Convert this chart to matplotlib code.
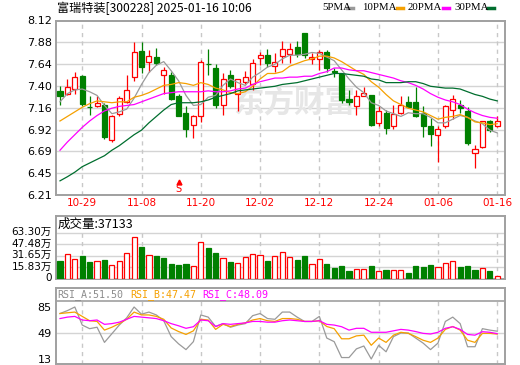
import numpy as np
import matplotlib.pyplot as plt
from matplotlib.transforms import ScaledTranslation, blended_transform_factory

plt.rcParams['font.family'] = ['DejaVu Sans', 'Noto Sans CJK SC']

W, H = 520, 365

# daily candles (index 0 = 10-24 ... 59 = 01-16)
opens = [7.35, 7.315, 7.37, 7.515, 7.175, 7.18, 7.195, 6.81, 7.095, 7.23,
         7.50, 7.79, 7.67, 7.725, 7.52, 7.52, 7.29, 7.11, 6.98, 7.07,
         7.645, 7.60, 7.20, 7.52, 7.32, 7.45, 7.425, 7.715, 7.74, 7.625,
         7.73, 7.75, 7.835, 7.98, 7.695, 7.70, 7.77, 7.565, 7.535, 7.26,
         7.18, 7.295, 7.305, 6.995, 7.11, 6.96, 7.105, 7.23, 7.23, 7.105,
         6.96, 6.87, 6.96, 7.14, 7.195, 7.13, 6.665, 6.73, 7.015, 6.96]
highs = [7.40, 7.48, 7.56, 7.52, 7.29, 7.29, 7.215, 7.09, 7.29, 7.52,
         7.88, 7.88, 7.80, 7.82, 7.615, 7.56, 7.32, 7.18, 7.085, 7.69,
         7.805, 7.645, 7.54, 7.58, 7.48, 7.57, 7.695, 7.77, 7.81, 7.76,
         7.90, 7.87, 7.90, 7.98, 7.76, 7.80, 7.80, 7.60, 7.54, 7.36,
         7.36, 7.39, 7.305, 7.18, 7.14, 7.195, 7.29, 7.29, 7.39, 7.18,
         7.05, 6.96, 7.195, 7.30, 7.25, 7.17, 6.755, 7.02, 7.03, 7.07]
lows = [7.20, 7.31, 7.32, 7.18, 7.09, 7.17, 6.82, 6.795, 7.08, 7.22,
        7.46, 7.55, 7.56, 7.63, 7.32, 7.25, 7.07, 6.84, 6.83, 7.01,
        7.52, 7.165, 7.085, 7.38, 7.13, 7.425, 7.36, 7.635, 7.615, 7.56,
        7.65, 7.65, 7.72, 7.71, 7.64, 7.58, 7.56, 7.505, 7.215, 7.20,
        7.085, 7.29, 6.96, 6.97, 6.875, 6.93, 7.10, 7.165, 7.06, 6.85,
        6.75, 6.575, 6.94, 7.04, 7.11, 6.76, 6.51, 6.72, 6.905, 6.95]
closes = [7.29, 7.395, 7.505, 7.21, 7.17, 7.215, 6.84, 7.08, 7.275, 7.36,
          7.77, 7.615, 7.73, 7.65, 7.58, 7.26, 7.075, 6.935, 7.075, 7.665,
          7.64, 7.195, 7.48, 7.40, 7.475, 7.50, 7.65, 7.74, 7.66, 7.665,
          7.805, 7.805, 7.75, 7.74, 7.725, 7.77, 7.60, 7.555, 7.255, 7.23,
          7.295, 7.33, 6.975, 7.13, 6.94, 7.10, 7.195, 7.175, 7.07, 6.96,
          6.875, 6.93, 7.18, 7.26, 7.16, 6.78, 6.71, 7.02, 6.92, 7.015]

ma5 = [7.23, 7.32, 7.36, 7.37, 7.34, 7.30, 7.19, 7.10, 7.12, 7.15,
       7.27, 7.42, 7.55, 7.63, 7.67, 7.57, 7.46, 7.30, 7.19, 7.20,
       7.28, 7.30, 7.41, 7.48, 7.44, 7.41, 7.50, 7.55, 7.61, 7.64,
       7.70, 7.74, 7.74, 7.75, 7.77, 7.76, 7.72, 7.68, 7.58, 7.48,
       7.39, 7.33, 7.22, 7.19, 7.13, 7.10, 7.07, 7.11, 7.10, 7.10,
       7.06, 7.00, 7.00, 7.04, 7.08, 7.06, 7.02, 6.99, 6.92, 6.89]
ma10 = [7.02, 7.07, 7.12, 7.17, 7.21, 7.24, 7.23, 7.22, 7.23, 7.23,
        7.28, 7.30, 7.33, 7.37, 7.41, 7.42, 7.44, 7.43, 7.41, 7.44,
        7.42, 7.38, 7.36, 7.33, 7.32, 7.34, 7.40, 7.48, 7.54, 7.54,
        7.56, 7.62, 7.65, 7.68, 7.70, 7.73, 7.73, 7.71, 7.67, 7.62,
        7.57, 7.53, 7.45, 7.39, 7.31, 7.24, 7.20, 7.16, 7.14, 7.12,
        7.08, 7.04, 7.06, 7.07, 7.09, 7.06, 7.01, 7.00, 6.98, 6.99]
ma20 = [6.70, 6.79, 6.87, 6.95, 7.02, 7.08, 7.13, 7.16, 7.18, 7.19,
        7.20, 7.23, 7.26, 7.29, 7.32, 7.33, 7.34, 7.34, 7.34, 7.34,
        7.35, 7.34, 7.34, 7.35, 7.37, 7.38, 7.42, 7.45, 7.47, 7.49,
        7.49, 7.50, 7.50, 7.51, 7.51, 7.54, 7.56, 7.60, 7.60, 7.58,
        7.57, 7.57, 7.55, 7.53, 7.51, 7.49, 7.46, 7.44, 7.41, 7.37,
        7.32, 7.28, 7.25, 7.23, 7.20, 7.15, 7.11, 7.08, 7.06, 7.05]
ma30 = [6.365, 6.41, 6.46, 6.52, 6.56, 6.60, 6.64, 6.70, 6.75, 6.81,
        6.87, 6.92, 7.00, 7.07, 7.14, 7.20, 7.22, 7.22, 7.22, 7.23,
        7.25, 7.28, 7.30, 7.32, 7.35, 7.36, 7.37, 7.38, 7.39, 7.40,
        7.42, 7.43, 7.44, 7.46, 7.48, 7.50, 7.52, 7.54, 7.54, 7.53,
        7.52, 7.51, 7.48, 7.47, 7.44, 7.44, 7.44, 7.45, 7.45, 7.43,
        7.40, 7.39, 7.38, 7.38, 7.37, 7.34, 7.31, 7.29, 7.26, 7.24]

# volume in 万
volume = [25.2, 34.4, 27.5, 31.6, 23.4, 24.8, 26.1, 18.8, 24.8, 35.8,
          57.8, 44.0, 33.0, 31.6, 29.3, 21.1, 19.3, 20.6, 17.9, 50.9,
          42.6, 35.8, 28.9, 23.4, 22.0, 30.3, 34.0, 32.6, 24.8, 31.6,
          36.7, 30.3, 26.1, 31.6, 20.2, 27.5, 20.6, 15.6, 17.9, 11.5,
          13.8, 13.8, 17.9, 11.0, 12.4, 12.4, 12.4, 8.7, 17.9, 16.5,
          19.3, 16.5, 21.6, 24.3, 16.5, 17.9, 12.4, 14.7, 11.0, 3.71]
vol_up = [0, 1, 1, 0, 0, 1, 0, 1, 1, 1, 1, 0, 1, 0, 0, 0, 0, 0, 1, 1,
          0, 0, 1, 0, 1, 1, 1, 1, 0, 1, 1, 1, 0, 0, 1, 1, 0, 0, 0, 0,
          1, 1, 0, 1, 0, 1, 1, 0, 0, 0, 0, 1, 1, 1, 0, 0, 0, 1, 0, 1]

rsi_a = [76, 80, 85, 60, 55, 57, 36, 48, 60, 70, 85, 75, 78, 74, 66, 44, 34, 26, 37, 74,
         71, 58, 62, 57, 60, 62, 73, 76, 69, 68, 78, 78, 71, 65, 65, 72, 42, 37, 15, 15,
         27, 31, 13, 32, 23, 44, 49, 49, 42, 35, 26, 35, 65, 71, 62, 30, 30, 55, 53, 51.5]
rsi_b = [76, 77, 78, 72, 66, 65, 53, 57, 62, 68, 78, 74, 74, 72, 68, 56, 51, 47, 52, 68,
         67, 54, 61, 58, 61, 63, 67, 69, 66, 65, 69, 69, 68, 65, 65, 66, 58, 55, 41, 41,
         45, 46, 32, 42, 36, 46, 50, 48.5, 44, 39, 36, 42, 54, 58, 53, 39, 36, 48.5, 48.5, 47.47]
rsi_c = [69, 71, 72, 67, 66, 67, 61, 62, 64, 68, 72, 71, 70, 69, 66, 62, 59, 55.5, 57.7, 67,
         66, 58, 62, 61, 62, 63, 65, 65, 64, 64, 66, 67, 66, 65, 65, 66, 61, 60, 57.7, 53,
         55.5, 55.5, 50, 50, 50, 52, 54, 53, 51, 48.5, 47.6, 50, 55.5, 57.7, 54, 47, 46, 50.8, 50, 48.09]

date_idx = [3, 11, 19, 27, 35, 43, 51, 59]
date_lbl = ['10-29', '11-08', '11-20', '12-02', '12-12', '12-24', '01-06', '01-16']
price_ticks = ['8.12', '7.88', '7.64', '7.40', '7.16', '6.92', '6.69', '6.45', '6.21']
vol_ticks = [0, 15.83, 31.65, 47.48, 63.30]
vol_lbl = ['0', '15.83万', '31.65万', '47.48万', '63.30万']
rsi_ticks = [13, 49, 85]
signal_idx = 16

RED = '#ff0000'
GREEN = '#008000'
C5, C10, C20, C30 = '#9a9a9a', '#f5a000', '#ff00ff', '#006e2e'
FRAME = '#a0a0a0'
GRID = '#d4d4d4'


def fx(px):
    return px / W


def fy(py):
    return 1 - py / H


x = np.arange(len(closes))
xlim = (-0.54, 60.05)
L, R = 56, 505

fig = plt.figure(figsize=(W / 100, H / 100), dpi=100)
ax = fig.add_axes([fx(L), fy(195), (R - L) / W, (195 - 20.5) / H])
axv = fig.add_axes([fx(L), fy(279), (R - L) / W, (279 - 216) / H])
axr = fig.add_axes([fx(L), fy(364), (R - L) / W, (364 - 288) / H])

for a in (ax, axv, axr):
    a.set_xlim(*xlim)
    a.set_xticks([])
    for s in a.spines.values():
        s.set_color(FRAME)
        s.set_linewidth(1.4)
    a.tick_params(axis='y', length=0, pad=3, labelsize=8)

# ---- price panel
ymin, ymax = 6.21, 8.12
ax.set_ylim(ymin, ymax)
pt = np.linspace(ymin, ymax, 9)[::-1]
ax.set_yticks(pt)
ax.set_yticklabels(price_ticks)
for v in pt[1:-1]:
    ax.axhline(v, color=GRID, lw=1, zorder=0)
for i in date_idx:
    ax.axvline(i, color='#c8c8c8', lw=1, ls=(0, (3, 3)), zorder=0)

ax.text(0.53, 0.53, '东方财富', transform=ax.transAxes, fontsize=22,
        color='#e6e6e6', fontweight='bold', style='italic', ha='center',
        va='center', family=['Noto Sans CJK SC'], zorder=0)

up = [c >= o for o, c in zip(opens, closes)]
ccol = [RED if u else GREEN for u in up]
ax.vlines(x, lows, highs, colors=ccol, lw=0.9, zorder=2)
body = [c - o if abs(c - o) > 0.004 else 0.004 for o, c in zip(opens, closes)]
ax.bar(x, body, bottom=opens, width=0.68, color=['white' if u else GREEN for u in up],
       edgecolor=ccol, linewidth=0.9, zorder=3)

ax.plot(x, ma5, color=C5, lw=0.9, zorder=4)
ax.plot(x, ma10, color=C10, lw=0.9, zorder=4)
ax.plot(x, ma20, color=C20, lw=0.9, zorder=4)
ax.plot(x, ma30, color=C30, lw=0.9, zorder=4)

bt = blended_transform_factory(ax.transData, ax.transAxes)
ax.plot([signal_idx], [0.075], marker='^', ms=3.5, color=RED, transform=bt, clip_on=False)
ax.text(signal_idx, 0.035, 'S', color=RED, fontsize=7, ha='center', va='center', transform=bt)

for i, lab in zip(date_idx, date_lbl):
    ax.text(i, -0.048, lab, color=RED, fontsize=7.5, ha='center', va='center', transform=bt)

# title and legend
fig.text(fx(57), fy(8), '富瑞特装[300228] 2025-01-16 10:06', fontsize=8.7,
         family=['Noto Sans CJK SC', 'DejaVu Sans'], va='center', ha='left')
leg = [('5PMA', 322, 347, C5), ('10PMA', 362, 397, C10),
       ('20PMA', 408, 443, C20), ('30PMA', 454, 488, C30)]
for name, tx, sx, col in leg:
    fig.text(fx(tx), fy(7.5), name, fontsize=7.8, family=['Liberation Serif'],
             va='center', ha='left')
    fig.add_artist(plt.Line2D([fx(sx), fx(sx + 6)], [fy(7.5), fy(7.5)], color=col, lw=2.5))

# ---- volume panel
vtop = 63.30 * (279 - 216) / (279 - 233)
axv.set_ylim(0, vtop)
axv.set_yticks(vol_ticks)
axv.set_yticklabels(vol_lbl, fontsize=7.5)
for lab in axv.get_yticklabels():
    lab.set_transform(lab.get_transform() + ScaledTranslation(0, 0.02, fig.dpi_scale_trans))
for v in vol_ticks[1:]:
    axv.axhline(v, color=GRID, lw=1, zorder=0)
axv.vlines(date_idx, 0, 63.30, colors='#c8c8c8', lw=1, linestyles=(0, (3, 3)), zorder=0)
vcol = [RED if u else GREEN for u in vol_up]
axv.bar(x, volume, width=0.7, color=['white' if u else GREEN for u in vol_up],
        edgecolor=vcol, linewidth=0.9, zorder=3)
axv.text(0.003, (vtop + 63.30) / 2 / vtop, '成交量:37133', transform=axv.transAxes,
         fontsize=9, family=['Noto Sans CJK SC'], va='center', ha='left')

# ---- RSI panel
r_lo = 49 - (364 - 333) / 0.722
r_hi = 49 + (333 - 288) / 0.722
r_sep = 49 + (333 - 301) / 0.722
axr.set_ylim(r_lo, r_hi)
axr.set_yticks(rsi_ticks)
axr.axhline(49, color=GRID, lw=1, zorder=0)
axr.axhline(r_sep, color=FRAME, lw=1.2, zorder=1)
axr.vlines(date_idx, r_lo, r_sep, colors='#c8c8c8', lw=1, linestyles=(0, (3, 3)), zorder=0)
axr.plot(x, rsi_a, color=C5, lw=0.9)
axr.plot(x, rsi_b, color=C10, lw=0.9)
axr.plot(x, rsi_c, color=C20, lw=0.9)
hy = (r_sep + r_hi) / 2
rt = blended_transform_factory(fig.transFigure, axr.transData)
for txt, px, col in [('RSI_A:51.50', 57, '#8c8c8c'), ('RSI_B:47.47', 130, C10), ('RSI_C:48.09', 202, C20)]:
    axr.text(fx(px), hy, txt, color=col, fontsize=7.2, family=['DejaVu Sans Mono'],
             va='center', ha='left', transform=rt)

fig.savefig('out.png', dpi=100)
